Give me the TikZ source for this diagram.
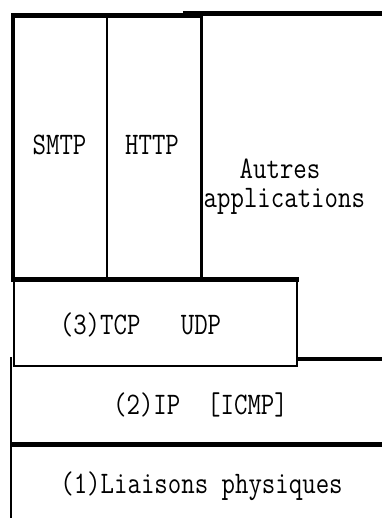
\documentclass[tikz,border=0pt]{standalone}
\usepackage{fontspec}
\newcommand{\tallTxt}[1]{\scalebox{1}[1.2]{#1}}
\begin{document}
\begin{tikzpicture}[x=1pt,y=-1pt,
  heavy/.style={line width=4.5pt,line cap=butt},
  light/.style={line width=2.8pt,line cap=butt},
  lbl/.style={anchor=base,inner sep=0pt,font=\ttfamily\fontsize{26.1}{24.6}\selectfont}]
\useasboundingbox (0,0) rectangle (382,518);
% application layer
\draw[heavy] (13,281) -- (13,15.5) -- (201,15.5);
\draw[heavy] (183,13.5) -- (382,13.5);
\draw[light] (107,15) -- (107,279);
\draw[light] (201.5,13) -- (201.5,279);
\draw[heavy] (11,279.5) -- (298.5,279.5);
% transport box
\draw[light] (14,279) -- (14,366) -- (297,366) -- (297,279);
\draw[heavy] (297,359) -- (382,359);
% network / link
\draw[light] (11,357) -- (11,518);
\draw[heavy] (11,444.5) -- (382,444.5);
% labels
\node[lbl] (smtp) at (59.5,155) {\tallTxt{SMTP}};
\node[lbl] (http) at (152,155) {\tallTxt{HTTP}};
\node[lbl,anchor=base west] (autres) at (203.5,208) {\tallTxt{\begin{tabular}[b]{@{}l@{}}\hspace*{36pt}Autres\\applications\end{tabular}}};
\node[lbl] (tcp) at (140.5,334) {\tallTxt{(3)TCP~~~UDP}};
\node[lbl] (ip) at (200.5,414) {\tallTxt{(2)IP~~[ICMP]}};
\node[lbl] (phys) at (201.5,493) {\tallTxt{(1)Liaisons physiques}};
\end{tikzpicture}
\end{document}
